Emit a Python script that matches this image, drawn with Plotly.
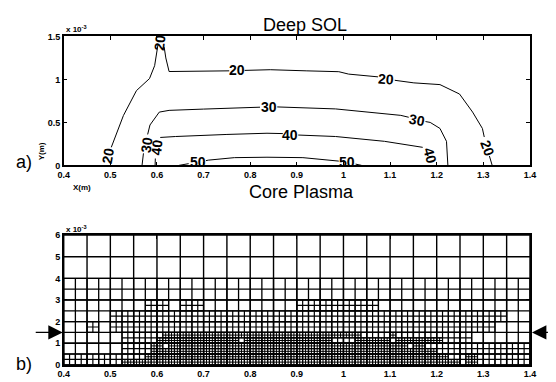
import plotly.graph_objects as go

# ---------------- data ----------------
x_ticks = [0.4, 0.5, 0.6, 0.7, 0.8, 0.9, 1.0, 1.1, 1.2, 1.3, 1.4]
x_ticktext = ["0.4", "0.5", "0.6", "0.7", "0.8", "0.9", "1", "1.1", "1.2", "1.3", "1.4"]
ya_ticks = [0, 0.5, 1.0, 1.5]
ya_ticktext = ["0", "0.5", "1", "1.5"]
yb_ticks = [0, 1, 2, 3, 4, 5, 6]
yb_ticktext = ["0", "1", "2", "3", "4", "5", "6"]

# contour lines (y in units of 1e-3 m), None = gap under a label
c20_x = [0.502, 0.507, 0.528, 0.556, 0.584, 0.595, 0.600, 0.602, None,
         0.6155, 0.619, 0.626, 0.700, 0.755, None,
         0.788, 0.836, 0.843, 0.920, 0.990, 1.011, 1.053, 1.074, None,
         1.110, 1.151, 1.207, 1.249, 1.277, 1.298, 1.302, None,
         1.313, 1.319]
c20_y = [0.21, 0.28, 0.58, 0.87, 1.01, 1.16, 1.34, 1.40, None,
         1.375, 1.25, 1.092, 1.098, 1.10, None,
         1.105, 1.115, 1.113, 1.10, 1.09, 1.062, 1.04, 1.03, None,
         0.99, 0.96, 0.94, 0.83, 0.62, 0.43, 0.33, None,
         0.11, 0.0]
c30_x = [0.568, 0.571, None,
         0.580, 0.585, 0.605, 0.626, 0.700, 0.800, 0.821, None,
         0.858, 0.983, 1.123, 1.140, None,
         1.176, 1.186, 1.207, 1.221, 1.224]
c30_y = [0.0, 0.14, None,
         0.36, 0.47, 0.62, 0.64, 0.655, 0.675, 0.677, None,
         0.68, 0.657, 0.582, 0.56, None,
         0.51, 0.50, 0.43, 0.28, 0.0]
c40_x = [0.596, 0.5965, None,
         0.607, 0.640, 0.750, 0.836, 0.870, None,
         0.903, 0.983, 1.088, 1.170]
c40_y = [0.0, 0.08, None,
         0.325, 0.336, 0.36, 0.374, 0.37, None,
         0.353, 0.336, 0.28, 0.21]
c50_x = [0.647, 0.668, None,
         0.705, 0.710, 0.766, 0.836, 0.913, 0.983, 0.990, None,
         1.026, 1.039]
c50_y = [0.0, 0.02, None,
         0.055, 0.061, 0.09, 0.095, 0.09, 0.061, 0.05, None,
         0.015, 0.0]

label_text = ["20", "20", "20", "20", "20", "30", "30", "30", "40", "40", "40", "50", "50"]
label_x = [0.4945, 0.607, 0.7715, 1.091, 1.308, 0.577, 0.8395, 1.1577, 0.599, 0.886, 1.1864, 0.6875, 1.007]
label_y = [0.11, 1.43, 1.107, 1.005, 0.197, 0.242, 0.675, 0.526, 0.204, 0.355, 0.11, 0.036, 0.036]
label_angle = [-80, -85, 0, 4, 70, -82, 0, 10, -85, 0, 75, 0, 0]

# adaptive mesh: refinement regions per level (x0, x1, y0, y1), y in 1e-3 m
mesh_l0 = [(0.4, 1.4, 0.0, 6.0)]
mesh_l1 = [(0.4, 1.4, 0.0, 4.0)]
mesh_l2 = [
    (0.4, 1.4, 0.0, 0.5),
    (0.525, 1.4, 0.5, 1.0),
    (0.525, 1.275, 1.0, 1.5),
    (0.5, 1.325, 1.5, 2.0),
    (0.45, 0.475, 1.5, 2.0),
    (0.5, 1.35, 2.0, 2.5),
    (0.575, 0.625, 2.5, 3.0),
    (0.65, 0.7, 2.5, 3.0),
    (0.9, 1.075, 2.5, 3.0),
]
mesh_l3 = [
    (0.525, 1.25, 0.0, 0.25),
    (0.575, 1.225, 0.25, 0.5),
    (1.2625, 1.2875, 0.0, 0.5),
    (0.5875, 1.2, 0.5, 0.75),
    (0.5875, 0.6125, 0.75, 1.0),
    (0.625, 1.1375, 0.75, 1.0),
    (1.15, 1.175, 0.75, 1.0),
    (0.6, 0.775, 1.0, 1.25),
    (0.7875, 0.975, 1.0, 1.25),
    (1.025, 1.1, 1.0, 1.25),
    (1.1125, 1.2125, 1.0, 1.25),
    (0.6125, 1.0375, 1.25, 1.5),
    (1.1, 1.1125, 1.25, 1.5),
]
mesh_levels = [mesh_l0, mesh_l1, mesh_l2, mesh_l3]
mesh_dx = [0.05, 0.025, 0.0125, 0.00625]
mesh_dy = [1.0, 0.5, 0.25, 0.125]
mesh_width = [1.4, 1.3, 1.2, 1.0]

arrow_y = 1.5

# ---------------- figure ----------------
W, H = 556, 382
fig = go.Figure()

for cx, cy in [(c20_x, c20_y), (c30_x, c30_y), (c40_x, c40_y), (c50_x, c50_y)]:
    fig.add_trace(go.Scatter(x=cx, y=cy, mode="lines", line=dict(color="black", width=1),
                             xaxis="x", yaxis="y", hoverinfo="skip", showlegend=False,
                             connectgaps=False))


def grid_segments(rects, dx, dy):
    xs, ys = [], []
    for (x0, x1, y0, y1) in rects:
        nx = int(round((x1 - x0) / dx))
        for i in range(nx + 1):
            x = x0 + i * dx
            xs += [x, x, None]
            ys += [y0, y1, None]
        ny = int(round((y1 - y0) / dy))
        for j in range(ny + 1):
            y = y0 + j * dy
            xs += [x0, x1, None]
            ys += [y, y, None]
    return xs, ys


for rects, dx, dy, lw in zip(mesh_levels, mesh_dx, mesh_dy, mesh_width):
    gx, gy = grid_segments(rects, dx, dy)
    fig.add_trace(go.Scatter(x=gx, y=gy, mode="lines", line=dict(color="black", width=lw),
                             xaxis="x2", yaxis="y2", hoverinfo="skip", showlegend=False))

FONT = "Liberation Sans, Arial, Helvetica, sans-serif"
tickfont = dict(family=FONT, size=9, color="black", weight="bold")
ax_common = dict(showgrid=False, zeroline=False, showline=True, linecolor="black",
                 linewidth=1.5, mirror="ticks", ticks="inside", ticklen=4,
                 tickcolor="black", tickwidth=1, tickfont=tickfont)

xdom = [59 / W, 535.5 / W]
fig.update_layout(
    width=W, height=H, autosize=False,
    margin=dict(l=0, r=0, t=0, b=0),
    paper_bgcolor="white", plot_bgcolor="white",
    xaxis=dict(domain=xdom, range=[0.4, 1.4], tickvals=x_ticks, ticktext=x_ticktext,
               anchor="y", **ax_common),
    yaxis=dict(domain=[(H - 164.7) / H, (H - 32.3) / H], range=[0, 1.5],
               tickvals=ya_ticks, ticktext=ya_ticktext, anchor="x", **ax_common),
    xaxis2=dict(domain=xdom, range=[0.4, 1.4], tickvals=x_ticks, ticktext=x_ticktext,
                anchor="y2", **ax_common),
    yaxis2=dict(domain=[(H - 369.5) / H, (H - 236.3) / H], range=[0, 6],
                tickvals=yb_ticks, ticktext=yb_ticktext, anchor="x2", **ax_common),
)

ann = []
for t, lx, ly, a in zip(label_text, label_x, label_y, label_angle):
    ann.append(dict(text=t, x=lx, y=ly, xref="x", yref="y", showarrow=False,
                    textangle=a, font=dict(family=FONT, size=14, color="black", weight="bold"),
                    xanchor="center", yanchor="middle"))


def pap(px, py):
    return px / W, (H - py) / H


big = dict(family=FONT, size=18, color="black")
small = dict(family=FONT, size=8, color="black", weight="bold")
for txt, (px, py), f, extra in [
    ("Deep SOL", (305.5, 20.5), big, {}),
    ("Core Plasma", (301.7, 192.5), big, {}),
    ("a)", (18.5, 161), big, {}),
    ("b)", (18.5, 368.5), big, {}),
    ("Y(m)", (36.5, 150.5), small, dict(textangle=-90)),
    ("X(m)", (78, 187), small, {}),
]:
    x0, y0 = pap(px, py)
    ann.append(dict(text=txt, x=x0, y=y0, xref="paper", yref="paper", showarrow=False,
                    font=f, xanchor="center", yanchor="middle", **extra))

for py in (25, 230.5):
    x0, y0 = pap(59, py)
    ann.append(dict(text="x 10<sup>-3</sup>", x=x0, y=y0, xref="paper", yref="paper",
                    showarrow=False, font=small, xanchor="left", yanchor="middle"))

# arrows marking y = 1.5e-3 in panel b
ann.append(dict(x=0.4, y=arrow_y, xref="x2", yref="y2", ax=-31, ay=0, text=" ",
                showarrow=True, arrowhead=2, arrowsize=2.4, arrowwidth=1.2, arrowcolor="black",
                standoff=1))
ann.append(dict(x=1.4, y=arrow_y, xref="x2", yref="y2", ax=21, ay=0, text=" ",
                showarrow=True, arrowhead=2, arrowsize=2.4, arrowwidth=1.2, arrowcolor="black",
                standoff=2))

fig.update_layout(annotations=ann)
fig.write_html("out.html")
